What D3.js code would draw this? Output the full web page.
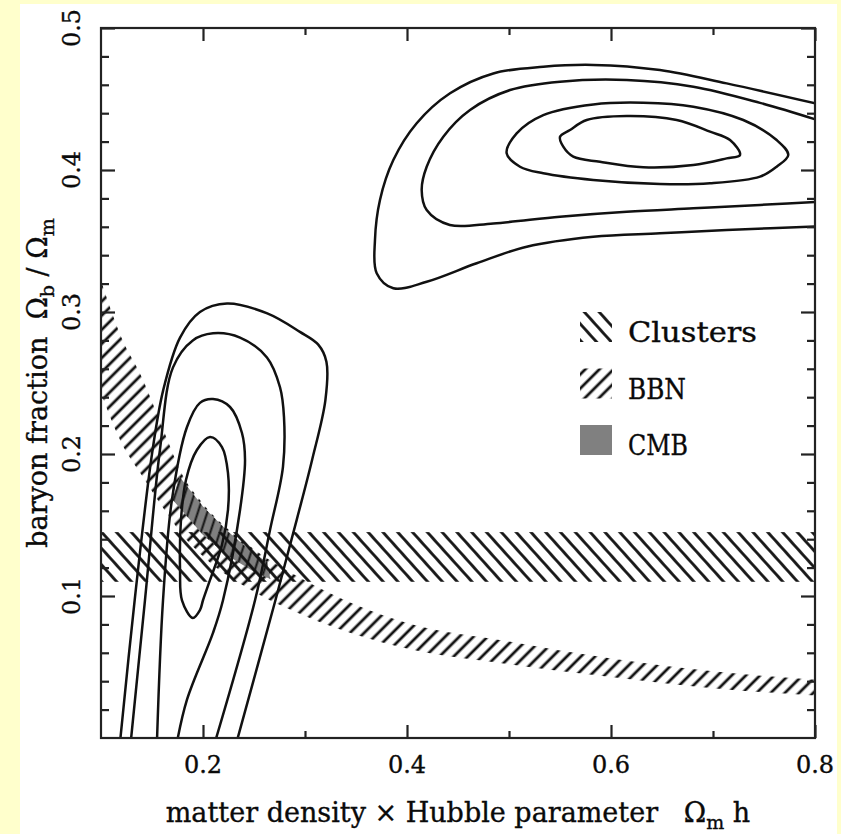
<!DOCTYPE html>
<html>
<head>
<meta charset="utf-8">
<script src="https://cdn.jsdelivr.net/npm/d3@7"></script>
<style>
  html, body { margin: 0; padding: 0; background: #ffffcc; }
  svg { display: block; }
</style>
</head>
<body>
<svg id="chart" width="841" height="834"></svg>
<script>
// ---- axis ranges and ticks ----
const xDomain = [0.1, 0.8];
const yDomain = [0, 0.5];
const xMajorTicks = [0.2, 0.4, 0.6, 0.8];
const xMinorTicks = [0.3, 0.5, 0.7];
const xTickLabels = ["0.2", "0.4", "0.6", "0.8"];
const yMajorTicks = [0.1, 0.2, 0.3, 0.4, 0.5];
const yMinorTicks = [0.02, 0.04, 0.06, 0.08, 0.12, 0.14, 0.16, 0.18,
                     0.22, 0.24, 0.26, 0.28, 0.32, 0.34, 0.36, 0.38,
                     0.42, 0.44, 0.46, 0.48];
const yTickLabels = ["0.1", "0.2", "0.3", "0.4", "0.5"];

// ---- constraint bands ----
// cluster baryon fraction: horizontal band
const clusterBand = [0.11, 0.145];
// nucleosynthesis band: lower / upper edge at each Omega_m h
const bbnX    = [0.10, 0.12, 0.14, 0.16, 0.18, 0.20, 0.25, 0.30, 0.40, 0.50, 0.60, 0.70, 0.80];
const bbnLow  = [0.243, 0.208, 0.185, 0.163, 0.143, 0.128, 0.103, 0.086, 0.063, 0.052, 0.043, 0.035, 0.030];
const bbnHigh = [0.322, 0.282, 0.254, 0.219, 0.185, 0.165, 0.133, 0.111, 0.081, 0.068, 0.056, 0.047, 0.041];
// CMB strip outline: upper edge then lower edge
const cmbUpper = [[0.177, 0.184], [0.200, 0.163], [0.225, 0.145], [0.250, 0.130], [0.263, 0.124]];
const cmbLower = [[0.170, 0.168], [0.200, 0.143], [0.225, 0.128], [0.250, 0.117], [0.266, 0.112]];

// ---- likelihood contours ----
// lower-left family (outer three run off the bottom edge)
const lowOuter = [[0.1185,-0.004],[0.133,0.097],[0.150,0.200],[0.161,0.245],[0.1775,0.282],[0.197,0.300],
  [0.2235,0.306],[0.263,0.299],[0.295,0.286],[0.313,0.277],[0.321,0.265],[0.320,0.238],[0.307,0.196],
  [0.292,0.154],[0.271,0.097],[0.2325,-0.004]];
const lowSecond = [[0.1290,-0.004],[0.1431,0.097],[0.1578,0.203],[0.1706,0.261],[0.190,0.280],[0.2098,0.285],
  [0.2363,0.282],[0.2627,0.268],[0.2755,0.247],[0.2794,0.226],[0.2784,0.191],[0.2657,0.1465],[0.251,0.097],
  [0.2113,-0.004]];
const lowThird = [[0.1548,-0.004],[0.1608,0.097],[0.1696,0.168],[0.1843,0.219],[0.197,0.236],[0.2098,0.2387],
  [0.2265,0.2331],[0.2382,0.2148],[0.2412,0.1958],[0.2363,0.1606],[0.2196,0.097],[0.2098,0.074],[0.1843,0.027],
  [0.1742,-0.004]];
const lowInner = [[0.2069,0.212],[0.2186,0.2049],[0.2245,0.1866],[0.2245,0.1606],[0.2186,0.136],[0.2069,0.1113],
  [0.200,0.097],[0.197,0.090],[0.190,0.0845],[0.1794,0.097],[0.1775,0.118],[0.1784,0.1535],[0.1833,0.1817],
  [0.194,0.2028]];
// upper-right family (outer two run off the right edge)
const highOuter = [[0.812,0.445],[0.7134,0.461],[0.648,0.4704],[0.5826,0.474],[0.5336,0.4727],[0.4846,0.468],
  [0.4422,0.454],[0.4095,0.4329],[0.3866,0.407],[0.3735,0.3789],[0.3686,0.3507],[0.3703,0.3273],[0.3866,0.3167],
  [0.4193,0.3213],[0.4683,0.3343],[0.5174,0.346],[0.5826,0.353],[0.648,0.3554],[0.7134,0.3577],[0.812,0.3605]];
const highSecond = [[0.812,0.433],[0.7461,0.4473],[0.6807,0.4587],[0.6154,0.4634],[0.55,0.4622],[0.501,0.4563],
  [0.4618,0.4423],[0.4356,0.4235],[0.4193,0.4023],[0.4144,0.3859],[0.4193,0.3718],[0.442,0.3613],[0.4846,0.3624],
  [0.55,0.3671],[0.6154,0.3706],[0.6807,0.373],[0.7461,0.3754],[0.812,0.378]];
const highThird = [[0.4977,0.4118],[0.5075,0.4258],[0.5336,0.4387],[0.5826,0.4462],[0.6317,0.4474],[0.6807,0.4446],
  [0.7297,0.4352],[0.7624,0.4211],[0.7738,0.4106],[0.7624,0.4023],[0.7461,0.3953],[0.6971,0.3906],[0.648,0.3901],
  [0.5826,0.393],[0.5336,0.3977],[0.5108,0.4023]];
const highInner = [[0.55,0.4234],[0.5598,0.4282],[0.5762,0.4352],[0.6154,0.438],[0.6644,0.4352],[0.6971,0.427],
  [0.7167,0.4211],[0.7265,0.4106],[0.7134,0.4082],[0.6807,0.4035],[0.6317,0.4019],[0.5892,0.4058],[0.5630,0.4094],
  [0.5532,0.4164]];

const openContours = [lowOuter, lowSecond, lowThird, highOuter, highSecond];
const closedContours = [lowInner, highThird, highInner];

// ---- legend ----
const legendLabels = ["Clusters", "BBN", "CMB"];

// ---- layout ----
const W = 841, H = 834;
const plot = { left: 101, top: 28, right: 815, bottom: 738 };
const ink = "#222";
const textInk = "#0a0a0a";
const font = "'DejaVu Serif', serif";

const svg = d3.select("#chart");
const x = d3.scaleLinear().domain(xDomain).range([plot.left, plot.right]);
const y = d3.scaleLinear().domain(yDomain).range([plot.bottom, plot.top]);

svg.append("rect").attr("width", W).attr("height", H).attr("fill", "#ffffcc");
svg.append("rect").attr("x", 20).attr("y", 4).attr("width", 817).attr("height", 830).attr("fill", "#ffffff");

const defs = svg.append("defs");
defs.append("clipPath").attr("id", "plotClip")
  .append("rect")
  .attr("x", plot.left).attr("y", plot.top)
  .attr("width", plot.right - plot.left).attr("height", plot.bottom - plot.top);

// line hatching: a horizontal stroke turned by the given angle
function hatch(id, angle, gap, width) {
  const p = defs.append("pattern").attr("id", id)
    .attr("patternUnits", "userSpaceOnUse")
    .attr("width", gap).attr("height", gap)
    .attr("patternTransform", `rotate(${angle})`);
  p.append("line")
    .attr("x1", -1).attr("x2", gap + 1)
    .attr("y1", gap / 2).attr("y2", gap / 2)
    .attr("stroke", "#111").attr("stroke-width", width);
}
hatch("hatchClusters", 48, 11, 2.8);
hatch("hatchBBN", -45, 10, 2.8);
hatch("hatchCMB", -72, 9, 2.0);

const plotArea = svg.append("g").attr("clip-path", "url(#plotClip)");

// BBN band
const bbnRows = bbnX.map((v, i) => [v, bbnLow[i], bbnHigh[i]]);
const bbnArea = d3.area()
  .x(d => x(d[0])).y0(d => y(d[1])).y1(d => y(d[2]))
  .curve(d3.curveMonotoneX);
plotArea.append("path").datum(bbnRows)
  .attr("d", bbnArea).attr("fill", "url(#hatchBBN)");

// CMB strip
const cmbOutline = cmbUpper.concat(cmbLower.slice().reverse());
const polyLine = d3.line().x(d => x(d[0])).y(d => y(d[1])).curve(d3.curveLinearClosed);
plotArea.append("path").datum(cmbOutline).attr("d", polyLine).attr("fill", "#808080");
plotArea.append("path").datum(cmbOutline).attr("d", polyLine).attr("fill", "url(#hatchCMB)");

// cluster band
plotArea.append("rect")
  .attr("x", x(xDomain[0])).attr("width", x(xDomain[1]) - x(xDomain[0]))
  .attr("y", y(clusterBand[1])).attr("height", y(clusterBand[0]) - y(clusterBand[1]))
  .attr("fill", "url(#hatchClusters)");

// contours
const openLine = d3.line().x(d => x(d[0])).y(d => y(d[1])).curve(d3.curveCatmullRom.alpha(0.5));
const closedLine = d3.line().x(d => x(d[0])).y(d => y(d[1])).curve(d3.curveCatmullRomClosed.alpha(0.5));
plotArea.selectAll("path.open").data(openContours).join("path")
  .attr("class", "open").attr("d", openLine)
  .attr("fill", "none").attr("stroke", "#111").attr("stroke-width", 2.5);
plotArea.selectAll("path.closed").data(closedContours).join("path")
  .attr("class", "closed").attr("d", closedLine)
  .attr("fill", "none").attr("stroke", "#111").attr("stroke-width", 2.5);

// axes: inward ticks on all four sides
function styleAxis(g) {
  g.select(".domain").remove();
  g.selectAll(".tick line").attr("stroke", ink).attr("stroke-width", 2.2);
  g.selectAll(".tick text").remove();
}
const majorLenX = 13, minorLenX = 7, majorLenY = 14, minorLenY = 8;
svg.append("g").attr("transform", `translate(0,${plot.bottom})`)
  .call(d3.axisBottom(x).tickValues(xMajorTicks).tickSize(-majorLenX)).call(styleAxis);
svg.append("g").attr("transform", `translate(0,${plot.bottom})`)
  .call(d3.axisBottom(x).tickValues(xMinorTicks).tickSize(-minorLenX)).call(styleAxis);
svg.append("g").attr("transform", `translate(0,${plot.top})`)
  .call(d3.axisTop(x).tickValues(xMajorTicks).tickSize(-majorLenX)).call(styleAxis);
svg.append("g").attr("transform", `translate(0,${plot.top})`)
  .call(d3.axisTop(x).tickValues(xMinorTicks).tickSize(-minorLenX)).call(styleAxis);
svg.append("g").attr("transform", `translate(${plot.left},0)`)
  .call(d3.axisLeft(y).tickValues(yMajorTicks).tickSize(-majorLenY)).call(styleAxis);
svg.append("g").attr("transform", `translate(${plot.left},0)`)
  .call(d3.axisLeft(y).tickValues(yMinorTicks).tickSize(-minorLenY)).call(styleAxis);
svg.append("g").attr("transform", `translate(${plot.right},0)`)
  .call(d3.axisRight(y).tickValues(yMajorTicks).tickSize(-majorLenY)).call(styleAxis);
svg.append("g").attr("transform", `translate(${plot.right},0)`)
  .call(d3.axisRight(y).tickValues(yMinorTicks).tickSize(-minorLenY)).call(styleAxis);

svg.append("rect")
  .attr("x", plot.left).attr("y", plot.top)
  .attr("width", plot.right - plot.left).attr("height", plot.bottom - plot.top)
  .attr("fill", "none").attr("stroke", ink).attr("stroke-width", 2.2);

// shared text look: slightly heavier strokes
function inkText(sel, size) {
  sel.attr("font-family", font).attr("font-size", size)
    .attr("fill", textInk).attr("stroke", textInk).attr("stroke-width", 0.35);
}

// tick labels
svg.append("g").selectAll("text").data(xMajorTicks).join("text")
  .attr("x", d => x(d)).attr("y", plot.bottom + 35)
  .attr("text-anchor", "middle")
  .call(inkText, 24)
  .text((d, i) => xTickLabels[i]);
svg.append("g").selectAll("text").data(yMajorTicks).join("text")
  .attr("transform", d => `translate(${plot.left - 21},${y(d)}) rotate(-90)`)
  .attr("text-anchor", "middle")
  .call(inkText, 24)
  .text((d, i) => yTickLabels[i]);

// axis titles
const xTitle = svg.append("text")
  .attr("x", (plot.left + plot.right) / 2).attr("y", 822)
  .attr("text-anchor", "middle")
  .call(inkText, 27);
xTitle.append("tspan").text("matter density \u00d7 Hubble parameter\u00a0\u00a0\u00a0\u03a9");
xTitle.append("tspan").attr("font-size", 19).attr("dy", 7).text("m");
xTitle.append("tspan").attr("dy", -7).text("\u00a0h");

const yTitle = svg.append("text")
  .attr("transform", `translate(47,${(plot.top + plot.bottom) / 2}) rotate(-90)`)
  .attr("text-anchor", "middle")
  .call(inkText, 27);
yTitle.append("tspan").text("baryon fraction\u00a0\u00a0\u03a9");
yTitle.append("tspan").attr("font-size", 19).attr("dy", 7).text("b");
yTitle.append("tspan").attr("dy", -7).text("\u00a0/\u00a0\u03a9");
yTitle.append("tspan").attr("font-size", 19).attr("dy", 7).text("m");

// legend
const legendFills = ["url(#hatchClusters)", "url(#hatchBBN)", "#808080"];
const legendWidths = [129, 58, 60];
const legend = svg.append("g");
legendLabels.forEach((label, i) => {
  const top = 312 + i * 56.5;
  legend.append("rect")
    .attr("x", 580).attr("y", top).attr("width", 32).attr("height", 30)
    .attr("fill", legendFills[i]);
  legend.append("text")
    .attr("x", 628).attr("y", top + 30)
    .call(inkText, 27)
    .attr("textLength", legendWidths[i]).attr("lengthAdjust", "spacingAndGlyphs")
    .text(label);
});
</script>
</body>
</html>
